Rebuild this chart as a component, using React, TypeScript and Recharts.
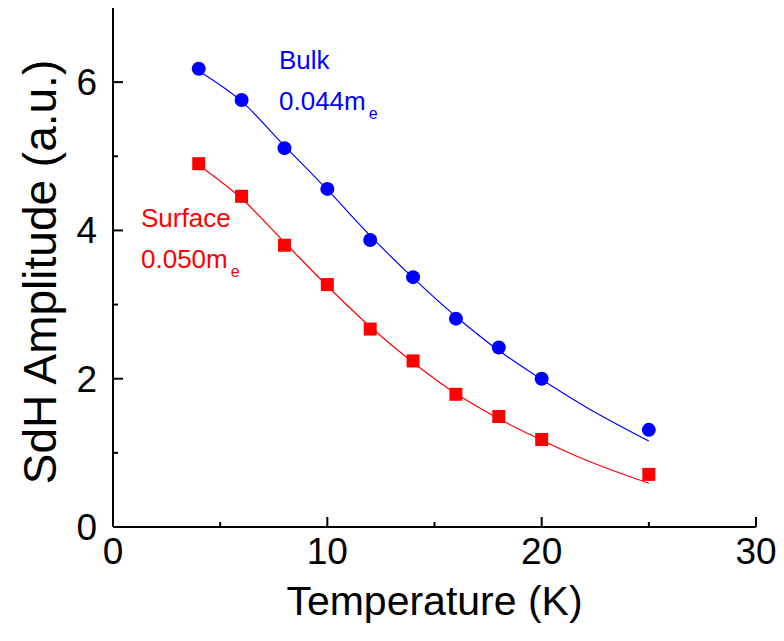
import React from "react";
import { ComposedChart, Line, Scatter, XAxis, YAxis } from "recharts";

// measured points (T in K, SdH amplitude in a.u.)
const temps = [4, 6, 8, 10, 12, 14, 16, 18, 20, 25];
const bulkAmp = [6.18, 5.76, 5.11, 4.56, 3.87, 3.37, 2.81, 2.42, 2.0, 1.31];
const surfAmp = [4.9, 4.46, 3.8, 3.27, 2.67, 2.24, 1.79, 1.49, 1.18, 0.71];

// LK fit curves
const fitTemps = [4, 6, 8, 10, 12, 14, 16, 18, 20, 22, 25];
const bulkFit = [6.15, 5.74, 5.14, 4.55, 3.93, 3.36, 2.84, 2.38, 1.99, 1.63, 1.16];
const surfFit = [4.88, 4.43, 3.84, 3.25, 2.7, 2.22, 1.8, 1.46, 1.17, 0.91, 0.59];

const xTicks = [0, 5, 10, 15, 20, 25, 30];
const yTicks = [0, 1, 2, 3, 4, 5, 6];

const bulkPts = temps.map((t, i) => ({ t, v: bulkAmp[i] }));
const surfPts = temps.map((t, i) => ({ t, v: surfAmp[i] }));
const bulkLine = fitTemps.map((t, i) => ({ t, v: bulkFit[i] }));
const surfLine = fitTemps.map((t, i) => ({ t, v: surfFit[i] }));

const FONT = "'Liberation Sans', Arial, sans-serif";
const BLUE = "#0000ff";
const RED = "#ff0000";

const XTick = (props: any) => {
  const { x, y, payload } = props;
  const major = payload.value % 10 === 0;
  return (
    <g>
      <line x1={x} x2={x} y1={y} y2={y - (major ? 10 : 5)} stroke="#000" strokeWidth={2} />
      {major && (
        <text x={x} y={y + 37} textAnchor="middle" fontSize={37} fontFamily={FONT} fill="#000">
          {payload.value}
        </text>
      )}
    </g>
  );
};

const YTick = (props: any) => {
  const { x, y, payload } = props;
  const major = payload.value % 2 === 0;
  return (
    <g>
      <line x1={x} x2={x + (major ? 10 : 5)} y1={y} y2={y} stroke="#000" strokeWidth={2} />
      {major && (
        <text x={x - 16} y={y + 13} textAnchor="end" fontSize={37} fontFamily={FONT} fill="#000">
          {payload.value}
        </text>
      )}
    </g>
  );
};

const Dot = (props: any) => <circle cx={props.cx} cy={props.cy} r={7} fill={BLUE} />;
const Square = (props: any) => (
  <rect x={props.cx - 6.5} y={props.cy - 6.5} width={13} height={13} fill={RED} />
);

export default function App() {
  return (
    <div style={{ position: "absolute", left: 0, top: 0, width: 784, height: 641, background: "#fff" }}>
      <ComposedChart width={784} height={641} margin={{ top: 8, right: 28, left: 0, bottom: 0 }}>
        <XAxis
          dataKey="t"
          type="number"
          domain={[0, 30]}
          ticks={xTicks}
          interval={0}
          height={114}
          tickSize={0}
          tickMargin={0}
          tick={<XTick />}
          tickLine={false}
          axisLine={{ stroke: "#000", strokeWidth: 2 }}
          allowDataOverflow
          label={{
            value: "Temperature (K)",
            position: "center",
            dy: 16,
            style: { fontSize: 41, fontFamily: FONT, fill: "#000" },
          }}
        />
        <XAxis
          xAxisId="top"
          orientation="top"
          type="number"
          domain={[0, 30]}
          height={0}
          tick={false}
          tickLine={false}
          axisLine={{ stroke: "#000", strokeWidth: 2 }}
        />
        <YAxis
          type="number"
          domain={[0, 7]}
          ticks={yTicks}
          interval={0}
          width={113}
          tickSize={0}
          tickMargin={0}
          tick={<YTick />}
          tickLine={false}
          axisLine={{ stroke: "#000", strokeWidth: 2 }}
          allowDataOverflow
        />
        <YAxis
          yAxisId="right"
          orientation="right"
          type="number"
          domain={[0, 7]}
          width={0}
          tick={false}
          tickLine={false}
          axisLine={{ stroke: "#000", strokeWidth: 2 }}
        />
        <Line data={bulkLine} dataKey="v" type="monotone" stroke={BLUE} strokeWidth={1.2} dot={false} isAnimationActive={false} />
        <Line data={surfLine} dataKey="v" type="monotone" stroke={RED} strokeWidth={1.2} dot={false} isAnimationActive={false} />
        <Scatter data={bulkPts} dataKey="v" shape={<Dot />} isAnimationActive={false} />
        <Scatter data={surfPts} dataKey="v" shape={<Square />} isAnimationActive={false} />
      </ComposedChart>
      <svg width={784} height={641} style={{ position: "absolute", left: 0, top: 0, pointerEvents: "none" }}>
        <text
          transform="translate(56,272) rotate(-90)"
          textAnchor="middle"
          fontFamily={FONT}
          fontSize={46}
          fill="#000"
        >
          SdH Amplitude (a.u.)
        </text>
        <g fontFamily={FONT} fontSize={26}>
          <text x={279} y={69} fill={BLUE}>Bulk</text>
          <text x={279} y={110} fill={BLUE}>
            0.044m<tspan fontSize={16} dx={3} dy={9}>e</tspan>
          </text>
          <text x={141} y={227} fill={RED}>Surface</text>
          <text x={141} y={268} fill={RED}>
            0.050m<tspan fontSize={16} dx={3} dy={9}>e</tspan>
          </text>
        </g>
      </svg>
    </div>
  );
}
